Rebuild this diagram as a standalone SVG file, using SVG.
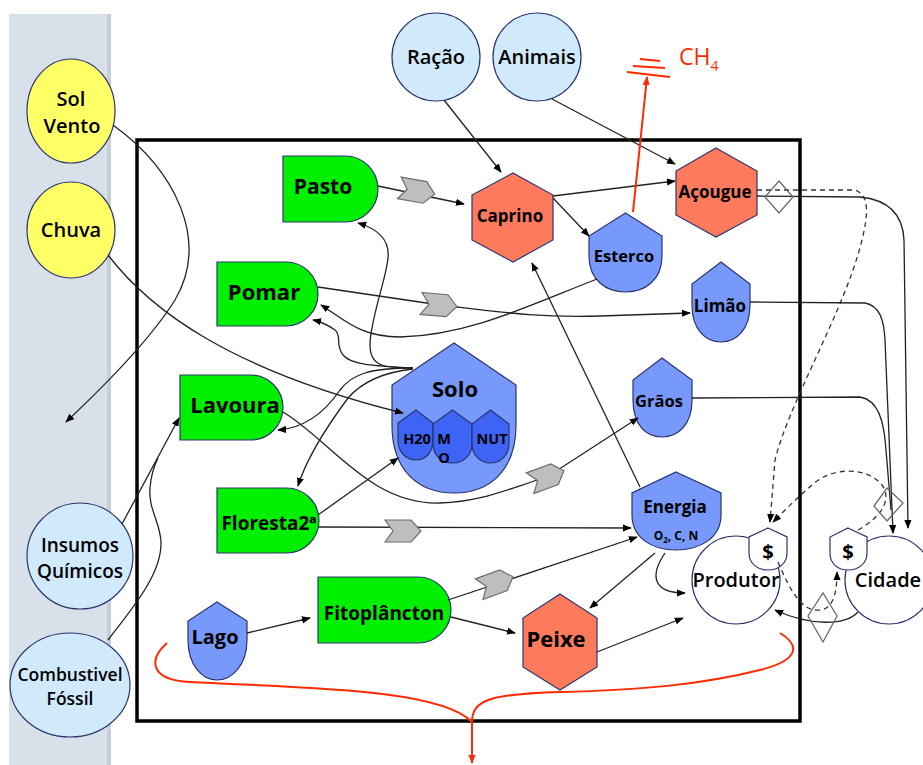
<svg xmlns="http://www.w3.org/2000/svg" width="923" height="765" viewBox="0 0 923 765">
<defs>
<style>
.t{font-family:"Open Sans","Liberation Sans",sans-serif;font-weight:bold;text-anchor:middle;fill:#000}
.c{font-family:"Open Sans","Liberation Sans",sans-serif;font-weight:600;text-anchor:middle;fill:#000}
.grn{fill:#00f000;stroke:#2b3470;stroke-width:1.2}
.hex{fill:#fd7b5c;stroke:#2b3470;stroke-width:1.2}
.blu{fill:#7799fb;stroke:#2b3470;stroke-width:1.2}
.sub{fill:#3d64f4;stroke:#2b3470;stroke-width:1.2}
.src{fill:#d0eafb;stroke:#2b3470;stroke-width:1.2}
.yel{fill:#ffff66;stroke:#2b3470;stroke-width:1.2}
.wht{fill:#fff;stroke:#2b3470;stroke-width:1.2}
.chev{fill:#bebebe;stroke:#6e6e6e;stroke-width:1.2}
.dia{fill:none;stroke:#6a6a6a;stroke-width:1.3}
.ln{fill:none;stroke:#222;stroke-width:1.3}
.dash{fill:none;stroke:#333;stroke-width:1.3;stroke-dasharray:5,4}
.red{fill:none;stroke:#ff2a00;stroke-width:2}
</style>
<marker id="ah" viewBox="0 0 10 10" refX="9" refY="5" markerWidth="9" markerHeight="9" orient="auto" markerUnits="userSpaceOnUse"><path d="M0,1 L10,5 L0,9 z" fill="#000"/></marker>
<marker id="ahr" viewBox="0 0 10 10" refX="9" refY="5" markerWidth="9" markerHeight="9" orient="auto" markerUnits="userSpaceOnUse"><path d="M0,1 L10,5 L0,9 z" fill="#ff2a00"/></marker>
<polygon id="chv" points="-18,-11 8,-11 18,0 8,11 -18,11 -10,0"/>
</defs>
<rect width="923" height="765" fill="#fff"/>
<rect x="9" y="14" width="102" height="751" fill="#d8e0ea"/>
<rect x="107" y="14" width="4" height="751" fill="#c6ced9"/>
<rect x="137" y="140" width="663" height="581" fill="none" stroke="#000" stroke-width="3.5"/>

<g id="sol-vento"><ellipse class="yel" cx="71" cy="111" rx="44" ry="52"/><text class="c" font-size="20" x="71" y="106">Sol</text><text class="c" font-size="20" x="72" y="133">Vento</text></g>
<g id="chuva"><ellipse class="yel" cx="71" cy="230" rx="44" ry="48"/><text class="c" font-size="20" x="71" y="237">Chuva</text></g>
<g id="insumos"><ellipse class="src" cx="80" cy="556" rx="53" ry="53"/><text class="c" font-size="19" x="80" y="552">Insumos</text><text class="c" font-size="19" x="80" y="578">Químicos</text></g>
<g id="combustivel"><ellipse class="src" cx="70" cy="685" rx="60" ry="52"/><text class="c" font-size="17.5" x="70" y="681">Combustivel</text><text class="c" font-size="17.5" x="70" y="705">Fóssil</text></g>
<g id="racao"><circle class="src" cx="436" cy="57" r="44"/><text class="c" font-size="20" x="436" y="64">Ração</text></g>
<g id="animais"><circle class="src" cx="537" cy="57" r="44"/><text class="c" font-size="20" x="537" y="64">Animais</text></g>

<g id="pasto"><path class="grn" d="M283,156 H345 A33,33 0 0 1 345,222 H283 Z"/><text class="t" font-size="21" x="323" y="194">Pasto</text></g>
<g id="pomar"><path class="grn" d="M217,262 H286 A32,32 0 0 1 286,326 H217 Z"/><text class="t" font-size="22" x="264" y="300">Pomar</text></g>
<g id="lavoura"><path class="grn" d="M180,375 H250.5 A32.5,32.5 0 0 1 250.5,440 H180 Z"/><text class="t" font-size="22" x="235" y="413">Lavoura</text></g>
<g id="floresta"><path class="grn" d="M217,488 H286.5 A32.5,32.5 0 0 1 286.5,553 H217 Z"/><text class="t" font-size="19" x="269" y="530">Floresta2ª</text></g>
<g id="fitoplancton"><path class="grn" d="M318,577 H418 A33,33 0 0 1 418,643 H318 Z"/><text class="t" font-size="19" x="384" y="620">Fitoplâncton</text></g>

<g id="caprino"><polygon class="hex" points="513,173 553,195 553,240 513,262 472,240 472,195"/><text class="t" font-size="17" x="510" y="222">Caprino</text></g>
<g id="acougue"><polygon class="hex" points="716,148 757,171 757,215 716,237 676,215 676,171"/><text class="t" font-size="17" x="715" y="198">Açougue</text></g>
<g id="peixe"><polygon class="hex" points="560,594 597,618 597,667 560,690 523,667 523,618"/><text class="t" font-size="22" x="556" y="647">Peixe</text></g>

<g id="esterco"><path class="blu" d="M625.5,213 L662,236 L662,256 C662,280 645,292 625.5,292 C606,292 589,280 589,256 L589,236 Z"/><text class="t" font-size="16.5" x="624" y="262">Esterco</text></g>
<g id="limao"><path class="blu" d="M721,262 L750,284 L750,305 C750,330 736,342 721,342 C706,342 692,330 692,305 L692,284 Z"/><text class="t" font-size="17" x="720" y="312">Limão</text></g>
<g id="graos"><path class="blu" d="M662,358 L692,380 L692,400 C692,425 678,437 662,437 C646,437 633,425 633,400 L633,380 Z"/><text class="t" font-size="16.5" x="659" y="407">Grãos</text></g>
<g id="energia"><path class="blu" d="M676,472 L721,493 L721,515 C721,538 700,550 676,550 C652,550 632,538 632,515 L632,493 Z"/><text class="t" font-size="17" x="675" y="513">Energia</text><text class="t" font-size="12" x="676" y="540">O<tspan font-size="8" dy="3">2</tspan><tspan dy="-3">, C, N</tspan></text></g>
<g id="lago"><path class="blu" d="M217,602 L247,621 L247,640 C247,665 232,680 217,680 C202,680 188,665 188,640 L188,621 Z"/><text class="t" font-size="20" x="215" y="644">Lago</text></g>

<g id="solo">
<path class="blu" d="M454,343 L516,385 L516,425 C516,470 490,493 454,493 C418,493 392,470 392,425 L392,385 Z"/>
<text class="t" font-size="22" x="455" y="397">Solo</text>
<path class="sub" d="M416,410 L433,423 L433,440 C433,452 426,460 416,460 C406,460 398,452 398,440 L398,423 Z"/>
<path class="sub" d="M452.5,410 L472,424 L472,443 C472,456 463,463 452.5,463 C442,463 433,456 433,443 L433,424 Z"/>
<path class="sub" d="M490.5,410 L509,424 L509,443 C509,456 500,463 490.5,463 C481,463 472,456 472,443 L472,424 Z"/>
<text class="t" font-size="14.5" x="417" y="444">H20</text>
<text class="t" font-size="14.5" x="444" y="444">M</text>
<text class="t" font-size="14.5" x="444" y="463">O</text>
<text class="t" font-size="14.5" x="492" y="444">NUT</text>
</g>

<g id="produtor"><circle class="wht" cx="736" cy="580" r="44"/><text class="c" font-size="20" x="736" y="587">Produtor</text>
<path class="wht" d="M768,528 L787,537 L787,553 C787,564 778,570 768,570 C758,570 749,564 749,553 L749,537 Z"/><text class="t" font-size="20" x="768" y="559">$</text></g>
<g id="cidade"><circle class="wht" cx="889" cy="580" r="44"/><text class="c" font-size="20" x="888" y="587">Cidade</text>
<path class="wht" d="M848,528 L867,537 L867,553 C867,564 858,570 848,570 C838,570 830,564 830,553 L830,537 Z"/><text class="t" font-size="20" x="848" y="559">$</text></g>

<g id="connectors">
<path class="ln" marker-end="url(#ah)" d="M444,100 L501,172"/>
<path class="ln" marker-end="url(#ah)" d="M552,99 L675,164"/>
<path class="ln" marker-end="url(#ah)" d="M553,196 L675,181"/>
<path class="ln" marker-end="url(#ah)" d="M553,198 L589,236"/>
<path class="ln" marker-end="url(#ah)" d="M378,186 L464,204"/>
<path class="ln" marker-end="url(#ah)" d="M318,287 L440,305 C500,312 540,318 600,316 L690,313"/>
<path class="ln" marker-end="url(#ah)" d="M597,279 C530,305 470,335 400,337 C360,337 345,320 321,305"/>
<path class="ln" marker-end="url(#ah)" d="M413,368 C380,366 352,366 343,355 C335,345 342,335 335,330 C328,325 322,322 313,320"/>
<path class="ln" marker-end="url(#ah)" d="M413,368 C385,368 370,367 370,345 C370,320 386,280 388,258 C390,238 375,228 358,223"/>
<path class="ln" marker-end="url(#ah)" d="M413,368 C370,368 352,374 340,390 C325,412 305,428 278,430"/>
<path class="ln" marker-end="url(#ah)" d="M413,369 C385,372 362,382 348,398 C328,425 306,460 298,486"/>
<path class="ln" marker-end="url(#ah)" d="M108,255 C150,310 230,370 403,413"/>
<path class="ln" marker-end="url(#ah)" d="M113,125 C175,170 210,240 175,300 C150,340 100,390 66,422"/>
<path class="ln" marker-end="url(#ah)" d="M122,524 L179,418"/>
<path class="ln" d="M108,640 C135,605 160,575 161,545 C162,525 148,510 150,488 C151,475 154,466 158,458"/>
<path class="ln" marker-end="url(#ah)" d="M283,412 C330,440 370,505 440,503 C480,502 505,490 547,477 L638,418"/>
<path class="ln" marker-end="url(#ah)" d="M318,515 L398,458"/>
<path class="ln" marker-end="url(#ah)" d="M319,527 L631,528"/>
<path class="ln" marker-end="url(#ah)" d="M448,600 L637,537"/>
<path class="ln" marker-end="url(#ah)" d="M451,617 L515,633"/>
<path class="ln" marker-end="url(#ah)" d="M247,633 L310,618"/>
<path class="ln" marker-end="url(#ah)" d="M640,487 L532,263"/>
<path class="ln" marker-end="url(#ah)" d="M655,553 L590,608"/>
<path class="ln" marker-end="url(#ah)" d="M665,553 C650,575 652,593 685,593"/>
<path class="ln" marker-end="url(#ah)" d="M597,652 L683,618"/>
<path class="ln" marker-end="url(#ah)" d="M757,196 L860,197 C890,200 903,215 904,240 L908,528"/>
<path class="dash" marker-end="url(#ah)" d="M757,190 L855,190 C870,195 868,215 862,240 C845,310 790,400 775,460 L770,522"/>
<path class="ln" marker-end="url(#ah)" d="M750,302 L865,303 C880,306 884,320 885,340 L893,533"/>
<path class="ln" d="M692,398 L860,397 C878,400 884,420 886,450 L891,510"/>
<path class="dash" marker-end="url(#ah)" d="M858,530 C880,518 893,500 882,485 C865,465 830,468 812,485 C797,498 785,510 773,522"/>
<path class="dash" marker-end="url(#ah)" d="M778,562 C790,590 800,608 815,610 C830,612 837,600 837,572"/>
<path class="ln" marker-end="url(#ah)" d="M858,612 C845,626 810,626 775,610"/>
<path class="red" d="M167,643 C148,660 150,680 190,682 C300,688 440,688 472,722"/>
<path class="red" d="M780,633 C800,645 800,660 760,670 C700,685 640,690 560,692 C490,694 472,700 472,722"/>
<path class="red" marker-end="url(#ahr)" d="M472,722 L472,763"/>
<path class="red" marker-end="url(#ahr)" d="M633,212 L647,77"/>
</g>

<g id="ch4">
<path class="red" stroke-width="1.5" d="M640,59 L660,61 M633,66 L665,68 M627,72 L670,77"/>
<text x="679" y="65" font-family="Open Sans,Liberation Sans,sans-serif" font-size="23" fill="#ff2a00">CH<tspan font-size="14" dy="6">4</tspan></text>
</g>

<g id="chevrons">
<use href="#chv" class="chev" transform="translate(417,191) rotate(10)"/>
<use href="#chv" class="chev" transform="translate(439,305) rotate(5)"/>
<use href="#chv" class="chev" transform="translate(547,477) rotate(-20)"/>
<use href="#chv" class="chev" transform="translate(403,531)"/>
<use href="#chv" class="chev" transform="translate(496,583) rotate(-20)"/>
</g>

<g id="diamonds">
<polygon class="dia" points="779,181 793,197 779,213 765,197"/>
<polygon class="dia" points="887,488 903,503 887,521 874,506"/>
<polygon class="dia" points="823,593 837,616 823,642 808,616"/>
</g>
</svg>
